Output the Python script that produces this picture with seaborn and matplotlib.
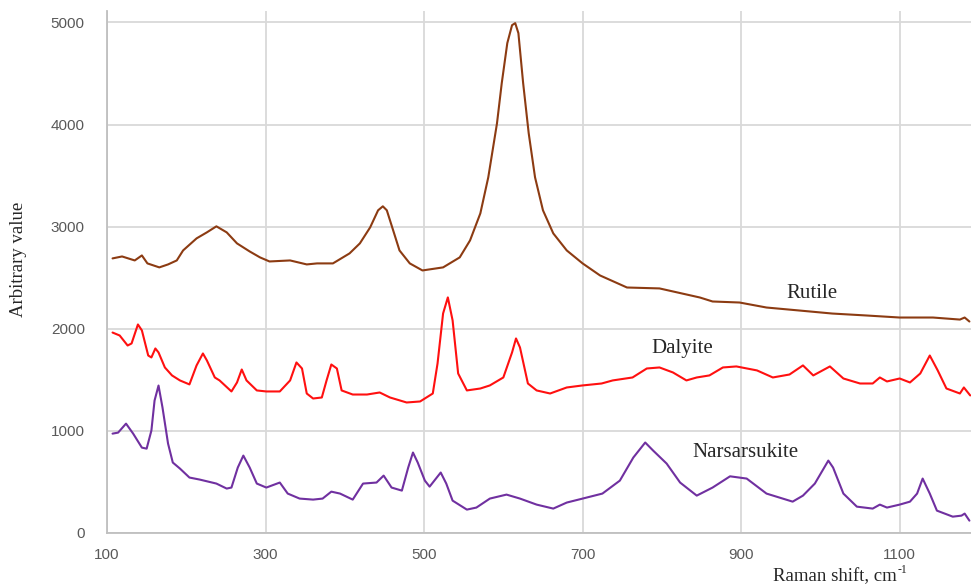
import numpy as np
import pandas as pd
import matplotlib
matplotlib.use("Agg")
import matplotlib.pyplot as plt
import seaborn as sns

# Rutile spectrum (brown)
rutile_x = [107, 119, 135, 144, 151, 166, 177, 188, 196, 213, 226, 238, 251, 264, 280,
            293, 305, 331, 352, 365, 385, 406, 419, 432, 442, 448, 453, 461, 469, 482,
            498, 524, 545, 558, 571, 581, 592, 598, 605, 611, 615, 619, 625, 632, 640,
            650, 663, 680, 700, 722, 756, 797, 848, 864, 898, 932, 973, 1015, 1058,
            1100, 1142, 1176, 1182, 1188]
rutile_y = [2689, 2708, 2669, 2718, 2640, 2601, 2630, 2669, 2767, 2885, 2944, 3003, 2944,
            2836, 2757, 2699, 2659, 2669, 2630, 2640, 2640, 2738, 2836, 2993, 3160, 3199,
            3160, 2964, 2767, 2640, 2571, 2601, 2699, 2865, 3130, 3483, 4012, 4405, 4797,
            4973, 4993, 4895, 4405, 3915, 3483, 3160, 2934, 2767, 2640, 2522, 2404, 2395,
            2306, 2267, 2257, 2208, 2179, 2149, 2130, 2110, 2110, 2090, 2110, 2071]

# Dalyite spectrum (red)
dalyite_x = [107, 116, 126, 131, 139, 144, 152, 156, 161, 165, 173, 182, 192, 204, 213,
             221, 226, 236, 242, 257, 264, 270, 276, 289, 301, 318, 331, 339, 346, 352,
             360, 371, 377, 383, 390, 396, 410, 428, 444, 457, 478, 495, 511, 517, 524,
             530, 536, 543, 554, 571, 583, 600, 611, 616, 621, 631, 642, 659, 680, 700,
             724, 738, 763, 781, 797, 814, 831, 844, 860, 877, 894, 920, 940, 961, 978,
             991, 1012, 1029, 1050, 1066, 1075, 1084, 1100, 1113, 1126, 1138, 1148,
             1159, 1176, 1181, 1189]
dalyite_y = [1963, 1934, 1836, 1856, 2042, 1984, 1738, 1719, 1807, 1768, 1621, 1543, 1494,
             1455, 1641, 1758, 1690, 1523, 1494, 1386, 1474, 1601, 1494, 1396, 1386, 1386,
             1494, 1670, 1611, 1366, 1317, 1327, 1494, 1650, 1611, 1396, 1356, 1356, 1376,
             1327, 1278, 1288, 1366, 1660, 2150, 2307, 2082, 1562, 1396, 1415, 1445, 1523,
             1768, 1905, 1817, 1464, 1396, 1366, 1425, 1445, 1464, 1494, 1523, 1611, 1621,
             1572, 1494, 1523, 1543, 1621, 1631, 1592, 1523, 1552, 1641, 1543, 1631, 1513,
             1464, 1464, 1523, 1484, 1513, 1474, 1562, 1738, 1592, 1415, 1366, 1425, 1347]

# Narsarsukite spectrum (purple)
narsa_x = [107, 114, 124, 133, 144, 150, 156, 160, 165, 170, 177, 183, 192, 204, 217, 238,
           251, 257, 265, 272, 280, 289, 301, 318, 328, 343, 360, 372, 383, 394, 410, 423,
           440, 449, 459, 472, 480, 486, 492, 501, 507, 521, 528, 536, 554, 566, 583, 604,
           621, 642, 663, 680, 700, 725, 747, 764, 779, 789, 806, 823, 844, 864, 886, 907,
           932, 965, 978, 993, 1010, 1016, 1029, 1046, 1066, 1075, 1084, 1100, 1113, 1122,
           1129, 1138, 1147, 1167, 1178, 1182, 1188]
narsa_y = [973, 983, 1071, 973, 836, 826, 1003, 1297, 1444, 1229, 876, 690, 631, 543, 523,
           484, 435, 445, 641, 758, 641, 484, 445, 494, 386, 337, 327, 337, 405, 386, 327,
           484, 494, 562, 445, 415, 641, 788, 690, 513, 454, 592, 484, 317, 229, 249, 337,
           376, 337, 278, 239, 298, 337, 386, 513, 739, 886, 807, 680, 494, 366, 445, 555,
           533, 386, 307, 366, 484, 709, 641, 386, 258, 239, 278, 249, 278, 307, 386, 533,
           386, 219, 160, 170, 190, 121]

x_ticks = [100, 300, 500, 700, 900, 1100]
y_ticks = [0, 1000, 2000, 3000, 4000, 5000]

spectra = pd.concat([
    pd.DataFrame({"shift": rutile_x, "value": rutile_y, "mineral": "Rutile"}),
    pd.DataFrame({"shift": dalyite_x, "value": dalyite_y, "mineral": "Dalyite"}),
    pd.DataFrame({"shift": narsa_x, "value": narsa_y, "mineral": "Narsarsukite"}),
])
palette = {"Rutile": "#8c3b12", "Dalyite": "#ff1010", "Narsarsukite": "#7030a0"}

sns.set_style("whitegrid", {"grid.color": "#d9d9d9", "axes.edgecolor": "#bfbfbf"})

fig = plt.figure(figsize=(9.71, 5.85), dpi=100)
ax = fig.add_axes([0.1102, 0.0889, 0.8898, 0.892])
sns.lineplot(data=spectra, x="shift", y="value", hue="mineral", palette=palette,
             estimator=None, sort=False, linewidth=1.5, legend=False, ax=ax)

ax.set_xlim(100, 1190)
ax.set_ylim(0, 5110)
ax.set_xticks(x_ticks)
ax.set_yticks(y_ticks)
ax.grid(True, linewidth=1.3)
for s in ["top", "right"]:
    ax.spines[s].set_visible(False)
for s in ["left", "bottom"]:
    ax.spines[s].set_linewidth(1.3)

tick_font = ["Liberation Sans Narrow", "Liberation Sans", "DejaVu Sans"]
ax.tick_params(axis="both", length=0, labelcolor="#595959", labelsize=11)
ax.tick_params(axis="y", pad=16)
ax.tick_params(axis="x", pad=11)
for lab in ax.get_xticklabels() + ax.get_yticklabels():
    lab.set_family(tick_font)
ax.set_xlabel("")
ax.set_ylabel("")

serif = ["Liberation Serif", "DejaVu Serif"]
ax.text(989, 2350, "Rutile", family=serif, fontsize=15, ha="center", va="center")
ax.text(826, 1805, "Dalyite", family=serif, fontsize=15, ha="center", va="center")
ax.text(905, 785, "Narsarsukite", family=serif, fontsize=15, ha="center", va="center")

fig.text(0.019, 0.556, "Arbitrary value", family=serif, fontsize=13.5, rotation=90,
         ha="center", va="center")
# x label: main text plus a small raised "-1"
xl = fig.text(0.924, 0.006, "Raman shift, cm", family=serif, fontsize=13.5,
              ha="right", va="baseline")
fig.text(0.9245, 0.02, "-1", family=serif, fontsize=8.5, ha="left", va="baseline")

fig.savefig("out.png", dpi=100)
